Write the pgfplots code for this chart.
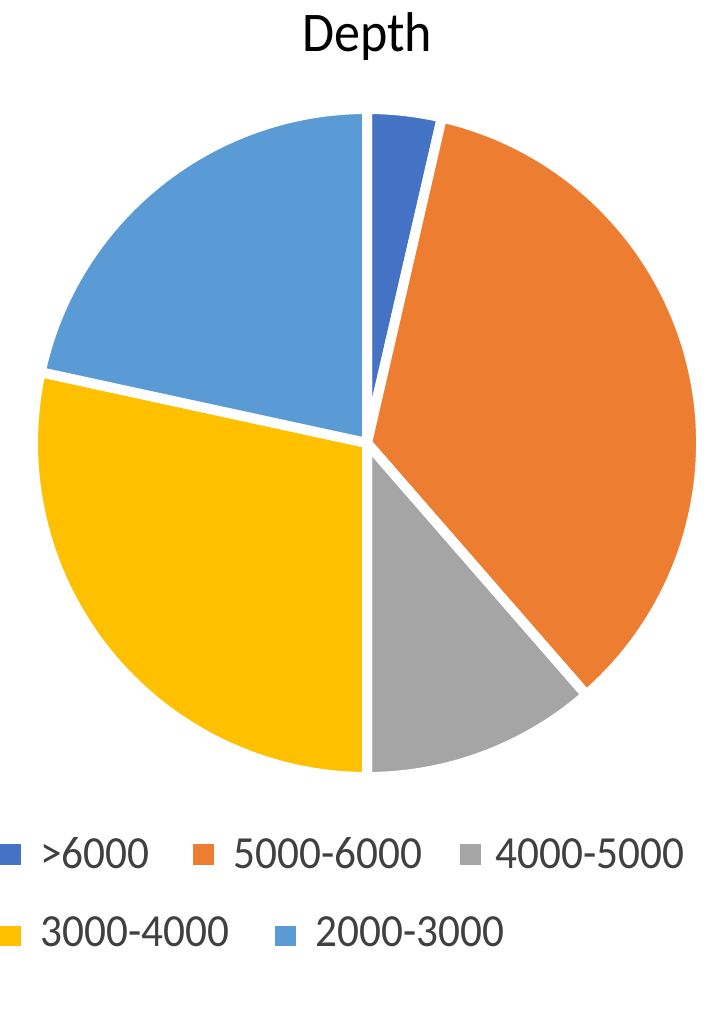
\documentclass[border=0pt]{standalone}
\usepackage{pgfplots}
\usepackage{pgfplotstable}
\pgfplotsset{compat=1.18}
\usepackage{fontspec}
\setmainfont{Carlito}
\newfontfamily\legfont{Carlito}[FakeStretch=0.94]
\newfontfamily\titfont{Carlito}[FakeStretch=0.93]
\definecolor{c1}{HTML}{4472C4}
\definecolor{c2}{HTML}{ED7D31}
\definecolor{c3}{HTML}{A5A5A5}
\definecolor{c4}{HTML}{FFC000}
\definecolor{c5}{HTML}{5B9BD5}
\definecolor{txt}{HTML}{404040}
\pgfplotstableread{
label value
>6000 3.6
5000-6000 35.0
4000-5000 11.4
3000-4000 28.4
2000-3000 21.6
}\piedata
\begin{document}
\begin{tikzpicture}
\path[use as bounding box] (0,0) rectangle (356.5pt,512pt);
% cumulative angles (clockwise from 12 o'clock)
\def\cum{0}
\foreach \i in {0,...,4}{
  \pgfplotstablegetelem{\i}{value}\of\piedata
  \pgfmathsetmacro{\st}{90-\cum*3.6}
  \pgfmathsetmacro{\newcum}{\cum+\pgfplotsretval}
  \pgfmathsetmacro{\en}{90-\newcum*3.6}
  \expandafter\xdef\csname st\i\endcsname{\st}
  \expandafter\xdef\csname en\i\endcsname{\en}
  \xdef\cum{\newcum}
}
\begin{axis}[
  at={(0,0)}, anchor=south west,
  scale only axis, width=356.5pt, height=512pt,
  xmin=0, xmax=713, ymin=0, ymax=1024,
  hide axis, clip=false]
\addplot[draw=none] coordinates {(0,0) (713,1024)};
\fill[c1, draw=white, line width=5pt, line join=round] (axis cs:367,581) -- ++(\csname st0\endcsname:167pt) arc[start angle=\csname st0\endcsname, end angle=\csname en0\endcsname, radius=167pt] -- cycle;
\fill[c2, draw=white, line width=5pt, line join=round] (axis cs:367,581) -- ++(\csname st1\endcsname:167pt) arc[start angle=\csname st1\endcsname, end angle=\csname en1\endcsname, radius=167pt] -- cycle;
\fill[c3, draw=white, line width=5pt, line join=round] (axis cs:367,581) -- ++(\csname st2\endcsname:167pt) arc[start angle=\csname st2\endcsname, end angle=\csname en2\endcsname, radius=167pt] -- cycle;
\fill[c4, draw=white, line width=5pt, line join=round] (axis cs:367,581) -- ++(\csname st3\endcsname:167pt) arc[start angle=\csname st3\endcsname, end angle=\csname en3\endcsname, radius=167pt] -- cycle;
\fill[c5, draw=white, line width=5pt, line join=round] (axis cs:367,581) -- ++(\csname st4\endcsname:167pt) arc[start angle=\csname st4\endcsname, end angle=\csname en4\endcsname, radius=167pt] -- cycle;
% title
\node[anchor=base, inner sep=0pt, font=\titfont\fontsize{28pt}{30pt}\selectfont, text=black] at (axis cs:367,972) {Depth};
% legend
\fill[c1] (axis cs:-1,159) rectangle (axis cs:21,180);
\node[anchor=base west, inner sep=0pt, font=\legfont\fontsize{23pt}{26pt}\selectfont, text=txt] at (axis cs:40,155) {>6000};
\fill[c2] (axis cs:193,159) rectangle (axis cs:214,180);
\node[anchor=base west, inner sep=0pt, font=\legfont\fontsize{23pt}{26pt}\selectfont, text=txt] at (axis cs:233,155) {5000-6000};
\fill[c3] (axis cs:460,159) rectangle (axis cs:481,180);
\node[anchor=base west, inner sep=0pt, font=\legfont\fontsize{23pt}{26pt}\selectfont, text=txt] at (axis cs:495,155) {4000-5000};
\fill[c4] (axis cs:-1,78) rectangle (axis cs:21,98);
\node[anchor=base west, inner sep=0pt, font=\legfont\fontsize{23pt}{26pt}\selectfont, text=txt] at (axis cs:40,77) {3000-4000};
\fill[c5] (axis cs:275,78) rectangle (axis cs:296,98);
\node[anchor=base west, inner sep=0pt, font=\legfont\fontsize{23pt}{26pt}\selectfont, text=txt] at (axis cs:315,77) {2000-3000};
\end{axis}
\end{tikzpicture}
\end{document}
